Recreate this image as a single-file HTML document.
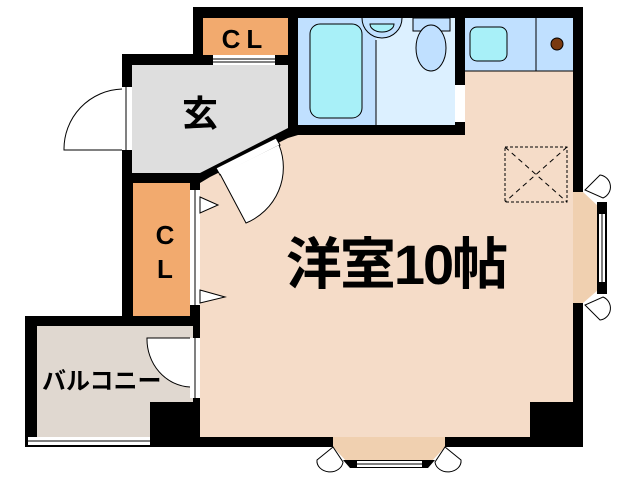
<!DOCTYPE html>
<html><head><meta charset="utf-8"><style>html,body{margin:0;padding:0;background:#fff}svg{display:block}</style></head>
<body>
<svg width="638" height="480" viewBox="0 0 638 480" xmlns="http://www.w3.org/2000/svg" font-family="'Liberation Sans','Noto Sans CJK JP',sans-serif">
<rect x="193" y="7" width="390" height="128" fill="#000"/>
<rect x="122" y="54" width="80" height="262" fill="#000"/>
<rect x="190" y="120" width="393" height="327" fill="#000"/>
<rect x="25" y="316" width="175" height="131" fill="#000"/>
<rect x="203" y="18" width="85" height="37" fill="#f2aa6e"/>
<rect x="213" y="55" width="62" height="10" fill="#fff"/>
<line x1="213" y1="59" x2="275" y2="59" stroke="#000" stroke-width="1"/>
<line x1="213" y1="62" x2="275" y2="62" stroke="#000" stroke-width="1"/>
<text x="245" y="48" font-size="26" font-weight="bold" text-anchor="middle" letter-spacing="6">CL</text>
<polygon points="132,65 288,65 288,128 200,173 132,173" fill="#dedede"/>
<rect x="122" y="87" width="10" height="63" fill="#fff"/>
<line x1="126" y1="87" x2="126" y2="150" stroke="#000"/>
<path d="M122,89 A60,60 0 0 0 64,150 L122,150" fill="none" stroke="#000"/>
<text x="200" y="126" font-size="36" font-weight="bold" text-anchor="middle">玄</text>
<rect x="298" y="18" width="78" height="107" fill="#c0e0ff"/>
<rect x="376" y="18" width="79" height="107" fill="#dcf0ff"/>
<line x1="376" y1="40" x2="376" y2="125" stroke="#000"/>
<rect x="310" y="24" width="52" height="94" rx="10" fill="#a8f0f8" stroke="#000"/>
<path d="M362,18 A20,20 0 0 0 402,18" fill="#c0e0ff" stroke="#000"/>
<path d="M370,24 A12,8 0 0 0 394,24 Z" fill="#a8f0f8" stroke="#000"/>
<rect x="413" y="18" width="37" height="13" fill="#c0e0ff" stroke="#000"/>
<ellipse cx="431" cy="48" rx="15" ry="23" fill="#c0e0ff" stroke="#000"/>
<rect x="455" y="85" width="10" height="37" fill="#fff"/>
<path d="M465,85 L493,85 A28,33 0 0 1 465,118" fill="#fff" stroke="#000"/>
<rect x="465" y="18" width="108" height="53" fill="#c0e0ff"/>
<line x1="536" y1="18" x2="536" y2="71" stroke="#000"/>
<rect x="470" y="27" width="37" height="34" rx="7" fill="#a8f0f8" stroke="#000"/>
<circle cx="557" cy="44" r="6" fill="#7a3a10" stroke="#000"/>
<polygon points="465,71 573,71 573,437 200,437 200,183 210,177 288,138 298,135 465,135" fill="#f5dcc8"/>
<line x1="465" y1="71" x2="573" y2="71" stroke="#000"/>
<polygon points="193,173 200,173 200,183 193,183" fill="#000"/>
<polygon points="216,168 276,138 280,145 220,175" fill="#fff" stroke="#000"/>
<path d="M220,174 L246,223 A60,60 0 0 0 279,145" fill="#fff" stroke="#000"/>
<rect x="505" y="147" width="62" height="55" fill="none" stroke="#000" stroke-dasharray="3,2"/>
<line x1="505" y1="147" x2="567" y2="202" stroke="#000" stroke-dasharray="5,4"/>
<line x1="567" y1="147" x2="505" y2="202" stroke="#000" stroke-dasharray="5,4"/>
<rect x="133" y="183" width="57" height="133" fill="#f2aa6e"/>
<rect x="190" y="190" width="10" height="115" fill="#fff"/>
<line x1="195" y1="190" x2="195" y2="305" stroke="#000"/>
<polygon points="200,197 218,205 200,213" fill="#fff" stroke="#000"/>
<polygon points="200,290 225,297 200,303" fill="#fff" stroke="#000"/>
<text x="165" y="244" font-size="26" font-weight="bold" text-anchor="middle">C</text>
<text x="165" y="278" font-size="26" font-weight="bold" text-anchor="middle">L</text>
<rect x="37" y="326" width="156" height="111" fill="#e0d8d0"/>
<rect x="190" y="338" width="10" height="60" fill="#fff"/>
<line x1="195" y1="338" x2="195" y2="398" stroke="#000"/>
<path d="M190,338 L147,338 A45,48 0 0 0 190,387" fill="#fff" stroke="#000"/>
<rect x="150" y="402" width="43" height="45" fill="#000"/>
<rect x="28" y="437" width="122" height="8" fill="#fff"/>
<line x1="28" y1="441" x2="150" y2="441" stroke="#000"/>
<text x="42" y="389" font-size="24" font-weight="bold">バルコニー</text>
<rect x="530" y="402" width="43" height="35" fill="#000"/>
<text x="396" y="284" font-size="56" font-weight="bold" text-anchor="middle" letter-spacing="-2">洋室10帖</text>
<polygon points="573,192 583,192 598,206 598,290 583,303 573,303" fill="#f0d0b0"/>
<rect x="597" y="202" width="10" height="92" fill="#000"/>
<rect x="599" y="214" width="6" height="68" fill="#fff"/>
<line x1="602" y1="214" x2="602" y2="282" stroke="#000"/>
<path d="M585,190 L600,175 A12,12 0 0 1 603,198 Z" fill="#fff" stroke="#000"/>
<path d="M585,305 L600,320 A12,12 0 0 0 603,297 Z" fill="#fff" stroke="#000"/>
<polygon points="333,447 445,447 430,463 348,463" fill="#f0d0b0"/>
<rect x="333" y="437" width="112" height="10" fill="#f0d0b0"/>
<polygon points="343,460 435,460 428,468 350,468" fill="#000"/>
<rect x="357" y="461" width="65" height="6" fill="#fff"/>
<line x1="357" y1="464" x2="422" y2="464" stroke="#000"/>
<path d="M333,447 L317,460 A12,10 0 0 0 343,462 Z" fill="#fff" stroke="#000"/>
<path d="M445,447 L461,460 A12,10 0 0 1 435,462 Z" fill="#fff" stroke="#000"/>
</svg>
</body></html>
